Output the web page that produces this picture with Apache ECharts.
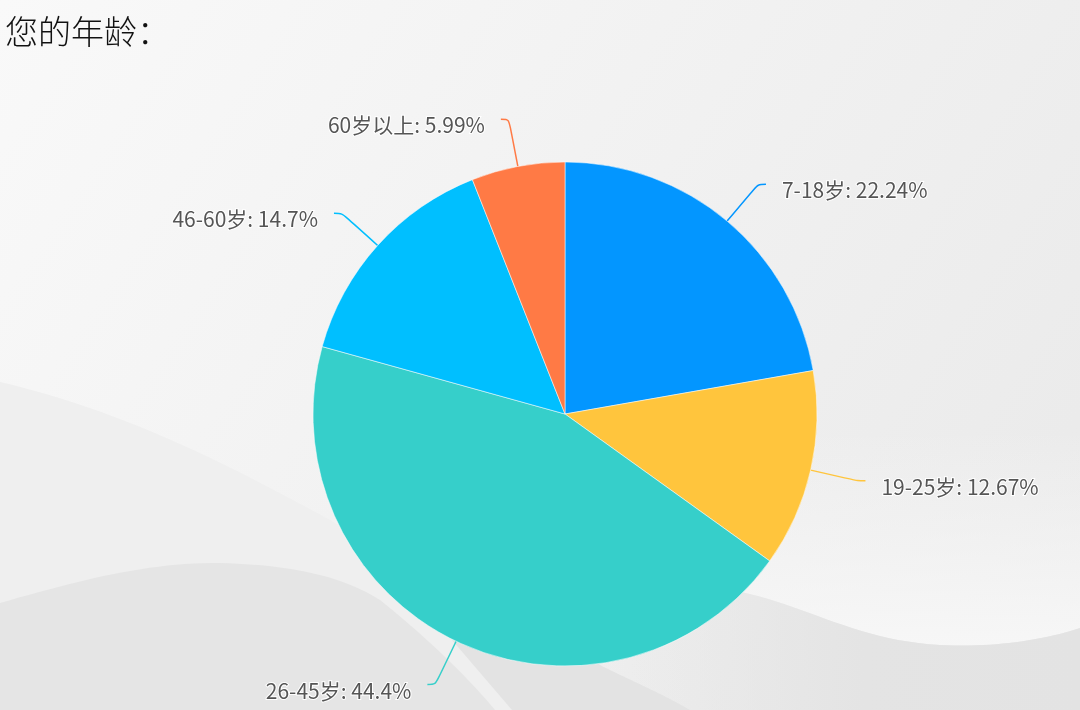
<!DOCTYPE html>
<html>
<head>
<meta charset="utf-8">
<script src="https://cdn.jsdelivr.net/npm/echarts@6/dist/echarts.min.js"></script>
<style>
html,body{margin:0;padding:0;width:1080px;height:710px;overflow:hidden;background:#f5f5f5;}
#main{width:1080px;height:710px;}
</style>
</head>
<body>
<div id="main"></div>
<script>
const titleText = '您的年龄：';
const categories = ['7-18岁', '19-25岁', '26-45岁', '46-60岁', '60岁以上'];
const values = [22.24, 12.67, 44.4, 14.7, 5.99];
const colors = ['#0396FF', '#FFC53D', '#36CFCA', '#00BFFF', '#FF7A45'];

// background decoration: cubic bezier segments sampled into polygons
function bez(segs, close) {
  const pts = [];
  segs.forEach(s => {
    for (let i = 0; i <= 24; i++) {
      const t = i / 24, u = 1 - t;
      pts.push([
        u*u*u*s[0][0] + 3*u*u*t*s[1][0] + 3*u*t*t*s[2][0] + t*t*t*s[3][0],
        u*u*u*s[0][1] + 3*u*u*t*s[1][1] + 3*u*t*t*s[2][1] + t*t*t*s[3][1]
      ]);
    }
  });
  return pts.concat(close);
}
const waveLeft = bez([
  [[0,382],[120,410],[220,460],[330,520]],
  [[330,520],[380,548],[420,570],[460,590]]
], [[452,640],[512,710],[0,710]]);
const waveDarkLeft = bez([
  [[0,603],[80,580],[150,562],[220,563]],
  [[220,563],[290,565],[340,575],[380,600]],
  [[380,600],[430,640],[470,680],[495,710]]
], [[0,710]]);
const waveMid = bez([
  [[500,645],[560,652],[590,655],[600,665]],
  [[600,665],[630,680],[665,695],[690,710]]
], [[512,710],[452,640]]);
const waveRight = bez([
  [[720,588],[800,600],[850,640],[940,645]],
  [[940,645],[1000,648],[1050,638],[1080,628]]
], [[1080,710],[690,710],[600,665]]);
const glowRight = bez([
  [[720,588],[800,600],[850,640],[940,645]],
  [[940,645],[1000,648],[1050,638],[1080,628]]
], [[1080,430],[720,430]]);

const chart = echarts.init(document.getElementById('main'));
const data = categories.map((c, i) => ({ name: c, value: values[i], itemStyle: { color: colors[i] } }));

chart.setOption({
  animation: false,
  title: {
    text: titleText,
    left: 0,
    top: 10,
    textStyle: { fontFamily: 'Noto Sans CJK SC', fontWeight: 300, fontSize: 33, color: '#111' }
  },
  graphic: [
    {
      type: 'rect', z: -10, silent: true,
      shape: { x: 0, y: 0, width: 1080, height: 710 },
      style: { fill: new echarts.graphic.LinearGradient(0, 0, 1, 1, [
        { offset: 0, color: '#f9f9f9' },
        { offset: 0.5, color: '#f1f1f1' },
        { offset: 1, color: '#e9e9e9' }
      ]) }
    },
    { type: 'polygon', z: -9, silent: true, shape: { points: glowRight },
      style: { fill: new echarts.graphic.LinearGradient(0, 0, 0, 1, [
        { offset: 0, color: 'rgba(248,248,248,0)' },
        { offset: 1, color: 'rgba(248,248,248,0.9)' }
      ]) } },
    { type: 'polygon', z: -9, silent: true, shape: { points: waveLeft }, style: { fill: '#efefef' } },
    { type: 'polygon', z: -8, silent: true, shape: { points: waveDarkLeft }, style: { fill: '#e5e5e5' } },
    { type: 'polygon', z: -8, silent: true, shape: { points: waveMid }, style: { fill: '#e3e3e3' } },
    { type: 'polygon', z: -8, silent: true, shape: { points: waveRight },
      style: { fill: new echarts.graphic.LinearGradient(0, 0, 1, 0, [
        { offset: 0, color: 'rgba(228,228,228,0)' },
        { offset: 0.3, color: 'rgba(228,228,228,0.5)' },
        { offset: 0.55, color: '#e4e4e4' },
        { offset: 1, color: '#e3e3e3' }
      ]) } }
  ],
  series: [{
    type: 'pie',
    center: [565, 414],
    radius: 252,
    startAngle: 90,
    clockwise: true,
    data: data,
    itemStyle: { borderColor: 'rgba(255,255,255,0.5)', borderWidth: 1 },
    label: {
      formatter: '{s| }\n{t|{b}: {c}%}',
      distanceToLabelLine: 16,
      rich: {
        s: { fontSize: 1, lineHeight: 12 },
        t: {
          fontFamily: 'Noto Sans CJK SC',
          fontSize: 21,
          lineHeight: 26,
          color: '#555',
          textBorderColor: '#fff',
          textBorderWidth: 2
        }
      }
    },
    labelLine: { length: 48, length2: 8, smooth: true, lineStyle: { width: 1.5 } }
  }]
});
</script>
</body>
</html>
